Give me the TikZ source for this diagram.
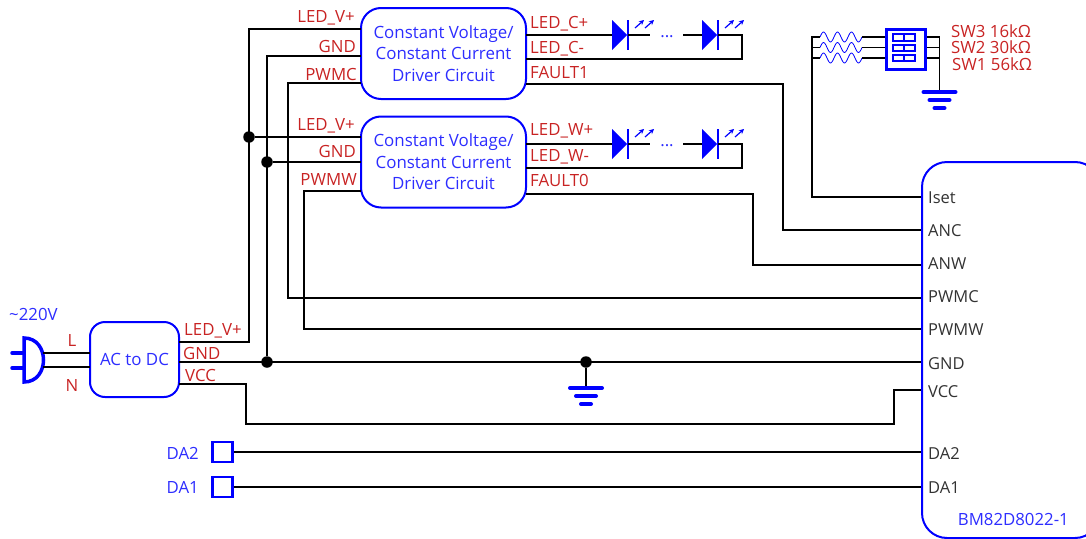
\documentclass[tikz,border=0pt]{standalone}
\usepackage{fontspec}
\usetikzlibrary{arrows.meta}
\setmainfont{Open Sans}
\definecolor{partblue}{RGB}{0,0,255}
\definecolor{textblue}{RGB}{45,45,255}
\definecolor{labelred}{RGB}{200,35,35}
\definecolor{pingray}{RGB}{50,50,50}
% #1 = name, #2 = left x, #3 = wire y
\newcommand{\led}[3]{
    \fill[partblue] (#2,#3-15) -- (#2+15,#3) -- (#2,#3+15) -- cycle;
    \draw[partblue, line width=2.2pt] (#2+16,#3-15) -- (#2+16,#3+15);
    \draw[ray] (#2+23,#3-7) -- (#2+32,#3-15);
    \draw[ray] (#2+33,#3-7) -- (#2+42,#3-15);
    \coordinate (#1-a) at (#2,#3);
    \coordinate (#1-k) at (#2+16,#3);
}
% #1 = centre x, #2 = top bar y
\newcommand{\gnd}[2]{
    \draw[gndbar] (#1-16,#2) -- (#1+16,#2);
    \draw[gndbar] (#1-10,#2+8) -- (#1+10,#2+8);
    \draw[gndbar] (#1-5,#2+16) -- (#1+5,#2+16);
}
% #1 = left x, #2 = wire y
\newcommand{\res}[2]{
    \draw[partblue, line width=0.8pt] plot[smooth, domain=0:42, samples=43] ({#1+\x}, {#2-5*sin(\x*360/14)});
}
\begin{document}
\begin{tikzpicture}[x=1pt, y=-1pt,
    box/.style={draw=partblue, line width=2pt, rounded corners=15pt, inner sep=0pt, align=center, text=textblue, font=\fontsize{16.9}{21.5}\selectfont},
    driver/.style={box, minimum width=165pt, minimum height=91pt, rounded corners=20pt},
    wire/.style={draw=black, line width=1.7pt},
    dot/.style={circle, fill=black, minimum size=11.5pt, inner sep=0pt},
    ray/.style={-{Stealth[length=5pt, width=5pt]}, partblue, line width=1.2pt},
    gndbar/.style={partblue, line width=4pt, line cap=round},
    rlabel/.style={text=labelred, inner sep=0pt, font=\fontsize{16.8}{18}\selectfont},
    blabel/.style={text=textblue, inner sep=0pt, font=\fontsize{16.8}{18}\selectfont},
    pinlabel/.style={text=pingray, inner sep=0pt, anchor=base west, font=\fontsize{16.5}{18}\selectfont},
    pad/.style={draw=partblue, line width=2.2pt, minimum size=20pt, inner sep=0pt}]
    \useasboundingbox (0,0) rectangle (1086,538);

    % Boxes
    \node[box, minimum width=89pt, minimum height=75pt] (acdc) at (134.5,359.5) {AC to DC};
    \node[driver] (driver-c) at (443.5,53.5) {Constant Voltage/\\Constant Current\\Driver Circuit};
    \node[driver] (driver-w) at (443.5,162) {Constant Voltage/\\Constant Current\\Driver Circuit};
    \node[box, anchor=north west, minimum width=178pt, minimum height=376pt, rounded corners=25pt] (mcu) at (921,161) {};
    \node[pad] (pad-da2) at (222.5,452) {};
    \node[pad] (pad-da1) at (222.5,487) {};
    \node[dot] (dot-vled) at (249,137) {};
    \node[dot] (dot-gnd1) at (267,162) {};
    \node[dot] (dot-gnd2) at (267,362) {};
    \node[dot] (dot-gnd3) at (586,362) {};

    % Pins
    \coordinate (ac-v) at (179,342);
    \coordinate (ac-g) at (179,362);
    \coordinate (ac-c) at (179,384);
    \coordinate (ac-l) at (90,353);
    \coordinate (ac-n) at (90,367);
    \coordinate (c-v) at (361,29);
    \coordinate (c-g) at (361,56);
    \coordinate (c-p) at (361,83);
    \coordinate (c-a) at (526,35);
    \coordinate (c-k) at (526,59);
    \coordinate (c-f) at (526,84);
    \coordinate (w-v) at (361,137);
    \coordinate (w-g) at (361,162);
    \coordinate (w-p) at (361,191);
    \coordinate (w-a) at (526,144);
    \coordinate (w-k) at (526,168);
    \coordinate (w-f) at (526,194);
    \coordinate (mcu-iset) at (921,197);
    \coordinate (mcu-anc) at (921,230);
    \coordinate (mcu-anw) at (921,265);
    \coordinate (mcu-pwmc) at (921,298);
    \coordinate (mcu-pwmw) at (921,329);
    \coordinate (mcu-gnd) at (921,362);
    \coordinate (mcu-vcc) at (921,390);
    \coordinate (mcu-da2) at (921,452);
    \coordinate (mcu-da1) at (921,487);

    % Power
    \draw[wire] (ac-v) -| (c-v -| dot-vled) -- (c-v);
    \draw[wire] (dot-vled) -- (w-v);
    \draw[wire] (dot-gnd2) -- (c-g -| dot-gnd2) -- (c-g);
    \draw[wire] (dot-gnd1) -- (w-g);
    \draw[wire] (ac-g) -- (mcu-gnd);
    \draw[wire] (ac-c) -- (246,384) -- (246,424) -- (894,424) -- (894,390) -- (mcu-vcc);
    \draw[wire] (dot-gnd3) -- (586,387);
    \gnd{586}{388}

    % Control
    \draw[wire] (c-p) -- (288,83) -- (288,298) -- (mcu-pwmc);
    \draw[wire] (w-p) -- (304,191) -- (304,329) -- (mcu-pwmw);
    \draw[wire] (c-f) -- (783,84) -- (783,230) -- (mcu-anc);
    \draw[wire] (w-f) -- (753,194) -- (753,265) -- (mcu-anw);
    \draw[wire] (pad-da2) -- (mcu-da2);
    \draw[wire] (pad-da1) -- (mcu-da1);

    % LED strings
    \led{led-c1}{612}{35}
    \led{led-c2}{702}{35}
    \led{led-w1}{612}{144}
    \led{led-w2}{702}{144}
    \draw[wire] (c-a) -- (led-c1-a);
    \draw[wire] (led-c1-k) -- (650,35);
    \draw[wire] (683,35) -- (led-c2-a);
    \draw[wire] (led-c2-k) -- (742,35) -- (742,59) -- (c-k);
    \draw[wire] (w-a) -- (led-w1-a);
    \draw[wire] (led-w1-k) -- (650,144);
    \draw[wire] (683,144) -- (led-w2-a);
    \draw[wire] (led-w2-k) -- (742,144) -- (742,168) -- (w-k);
    \node[blabel, anchor=base] (dots-c) at (667,37) {...};
    \node[blabel, anchor=base] (dots-w) at (667,146) {...};

    % Switch
    \node[draw=partblue, line width=3pt, anchor=north west, minimum width=39pt, minimum height=40pt, inner sep=0pt] (sw) at (885,28) {};
    \draw[partblue, line width=2.2pt] (893,34) rectangle (915,41) (904,34) -- (904,41);
    \draw[partblue, line width=2.2pt] (893,45) rectangle (915,51) (904,45) -- (904,51);
    \draw[partblue, line width=2.2pt] (893,55) rectangle (915,61) (904,55) -- (904,61);
    \res{820}{37}
    \res{820}{47.5}
    \res{820}{58}
    \draw[wire] (mcu-iset) -- (812,197) -- (812,37) -- (820,37);
    \draw[wire] (812,47.5) -- (820,47.5);
    \draw[wire] (812,58) -- (820,58);
    \draw[wire, line width=1.2pt] (862,37) -- (sw.west |- 0,37);
    \draw[wire, line width=1.2pt] (862,47.5) -- (sw.west |- 0,47.5);
    \draw[wire, line width=1.2pt] (862,58) -- (sw.west |- 0,58);
    \draw[wire, line width=1.2pt] (sw.east |- 0,47.5) -- (939.5,47.5);
    \draw[wire, line width=1.2pt] (sw.east |- 0,58) -- (939.5,58);
    \draw[wire] (sw.east |- 0,37) -- (939.5,37) -- (939.5,92);
    \gnd{939.5}{92}

    % Plug
    \draw[partblue, line width=3.5pt] (24,338) .. controls (50,338) and (50,382) .. (24,382) -- cycle;
    \draw[partblue, line width=3.5pt, line cap=round] (12,353) -- (24,353);
    \draw[partblue, line width=3.5pt, line cap=round] (12,368) -- (24,368);
    \draw[wire] (43,353) -- (ac-l);
    \draw[wire] (43,367) -- (ac-n);

    % Labels
    \node[blabel, anchor=base west] (lbl-220) at (9,320) {\textasciitilde220V};
    \node[rlabel, anchor=base] (lbl-l) at (72,346) {L};
    \node[rlabel, anchor=base] (lbl-n) at (72,391) {N};
    \node[rlabel, anchor=base west] (lbl-ac-v) at (184,335) {LED\_V+};
    \node[rlabel, anchor=base west] (lbl-ac-g) at (183,359) {GND};
    \node[rlabel, anchor=base west] (lbl-ac-c) at (185,381) {VCC};
    \node[rlabel, anchor=base east] (lbl-c-v) at (355,22) {LED\_V+};
    \node[rlabel, anchor=base east] (lbl-c-g) at (356,52) {GND};
    \node[rlabel, anchor=base east] (lbl-c-p) at (357,80) {PWMC};
    \node[rlabel, anchor=base east] (lbl-w-v) at (355,130) {LED\_V+};
    \node[rlabel, anchor=base east] (lbl-w-g) at (356,157) {GND};
    \node[rlabel, anchor=base east] (lbl-w-p) at (357,185) {PWMW};
    \node[rlabel, anchor=base west] (lbl-c-a) at (530,28) {LED\_C+};
    \node[rlabel, anchor=base west] (lbl-c-k) at (530,53) {LED\_C-};
    \node[rlabel, anchor=base west] (lbl-c-f) at (530,78) {FAULT1};
    \node[rlabel, anchor=base west] (lbl-w-a) at (530,135) {LED\_W+};
    \node[rlabel, anchor=base west] (lbl-w-k) at (530,161) {LED\_W-};
    \node[rlabel, anchor=base west] (lbl-w-f) at (530,186) {FAULT0};
    \node[rlabel, anchor=base west] (lbl-sw3) at (951,37) {SW3 16kΩ};
    \node[rlabel, anchor=base west] (lbl-sw2) at (951,53) {SW2 30kΩ};
    \node[rlabel, anchor=base west] (lbl-sw1) at (952,70) {SW1 56kΩ};
    \node[blabel, anchor=base east] (lbl-da2) at (199,459) {DA2};
    \node[blabel, anchor=base east] (lbl-da1) at (199,493) {DA1};
    \node[pinlabel] (pin-iset) at (928,203) {Iset};
    \node[pinlabel] (pin-anc) at (928,236) {ANC};
    \node[pinlabel] (pin-anw) at (928,269) {ANW};
    \node[pinlabel] (pin-pwmc) at (928,302) {PWMC};
    \node[pinlabel] (pin-pwmw) at (928,335) {PWMW};
    \node[pinlabel] (pin-gnd) at (928,369) {GND};
    \node[pinlabel] (pin-vcc) at (928,397) {VCC};
    \node[pinlabel] (pin-da2) at (928,459) {DA2};
    \node[pinlabel] (pin-da1) at (928,493) {DA1};
    \node[blabel, anchor=base east] (lbl-mcu) at (1069,525) {BM82D8022-1};
\end{tikzpicture}
\end{document}
